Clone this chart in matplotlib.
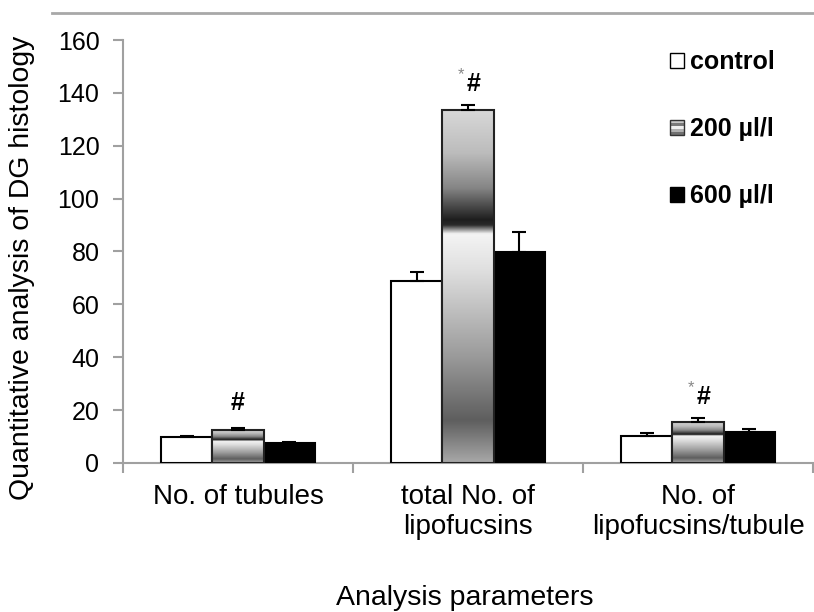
import numpy as np
import matplotlib
matplotlib.use('Agg')
import matplotlib.pyplot as plt
from matplotlib.colors import LinearSegmentedColormap
from matplotlib.patches import Rectangle
from matplotlib.legend_handler import HandlerBase

plt.rcParams['font.family'] = ['Liberation Sans', 'DejaVu Sans']

categories = ['No. of tubules', 'total No. of\nlipofucsins', 'No. of\nlipofucsins/tubule']
series = ['control', '200 µl/l', '600 µl/l']
control = [9.7, 69.0, 10.2]
control_err = [0.4, 3.3, 1.0]
d200 = [12.5, 133.5, 15.6]
d200_err = [0.6, 1.9, 1.3]
d600 = [7.4, 79.8, 11.8]
d600_err = [0.7, 7.7, 0.9]
marks = ['#', '*#', '*#']

# gradient used for the 200 ul/l bars (top -> bottom)
grad = LinearSegmentedColormap.from_list('g200', [
    (0.0, '#d8d8d8'), (0.12, '#bcbcbc'), (0.22, '#858585'), (0.31, '#1e1e1e'),
    (0.325, '#2a2a2a'), (0.35, '#f4f4f4'), (0.45, '#e0e0e0'), (0.70, '#9a9a9a'),
    (0.88, '#5e5e5e'), (1.0, '#a8a8a8')])

class GradHandler(HandlerBase):
    def create_artists(self, legend, orig_handle, xd, yd, w, h, fontsize, trans):
        shades = ['#c8c8c8', '#7a7a7a', '#f0f0f0', '#b0b0b0', '#707070']
        n = len(shades)
        arts = []
        for i, c in enumerate(shades):
            arts.append(Rectangle((-xd, -yd + h * (n - 1 - i) / n), w, h / n,
                                  facecolor=c, edgecolor='none', transform=trans))
        arts.append(Rectangle((-xd, -yd), w, h, facecolor='none',
                              edgecolor='#333333', lw=1, transform=trans))
        return arts

fig = plt.figure(figsize=(8.14, 6.12), dpi=100)
ax = fig.add_axes([123/814, 1-463/612, 690/814, 423/612])

x = np.arange(len(categories))
w = 0.222
ax.bar(x - w, control, w, color='white', edgecolor='black', lw=1.5, zorder=3)
ax.bar(x + w, d600, w, color='black', edgecolor='black', lw=1.5, zorder=3)
b2 = ax.bar(x, d200, w, color='none', edgecolor='#222222', lw=1.5, zorder=4)
img = np.linspace(0, 1, 256).reshape(-1, 1)
for r in b2:
    x0, h = r.get_x(), r.get_height()
    ax.imshow(img, cmap=grad, extent=(x0, x0 + w, 0, h), aspect='auto',
              origin='upper', zorder=3, interpolation='bilinear')

for xs, vals, errs in [(x - w, control, control_err), (x, d200, d200_err), (x + w, d600, d600_err)]:
    ax.errorbar(xs, vals, yerr=[np.zeros(len(errs)), errs], fmt='none',
                ecolor='black', elinewidth=1.5, capsize=5, capthick=1.5, zorder=5)

for i, m in enumerate(marks):
    top = d200[i] + d200_err[i]
    if m.startswith('*'):
        ax.annotate('*', (x[i], top), xytext=(-5, 22), textcoords='offset points',
                    ha='center', va='center', fontsize=12, color='#888888')
        ax.annotate('#', (x[i], top), xytext=(4, 15), textcoords='offset points',
                    ha='center', va='center', fontsize=18, fontweight='bold')
    else:
        ax.annotate('#', (x[i], top), xytext=(0, 18), textcoords='offset points',
                    ha='center', va='center', fontsize=18, fontweight='bold')

ax.set_xlim(-0.5, 2.5)
ax.set_ylim(0, 160)
ax.set_yticks(np.arange(0, 161, 20))
ax.set_xticks([-0.5, 0.5, 1.5, 2.5])
ax.set_xticklabels([])
ax.set_xticks(x, minor=True)
ax.set_xticklabels(categories, minor=True, fontsize=20)
ax.tick_params(axis='x', which='minor', length=0, pad=15)
ax.tick_params(axis='x', which='major', length=7, width=1.5, color='#a0a0a0')
ax.tick_params(axis='y', length=7, width=1.5, color='#a0a0a0', labelsize=18, pad=10)
for s in ['top', 'right']:
    ax.spines[s].set_visible(False)
for s in ['left', 'bottom']:
    ax.spines[s].set_color('#a0a0a0')
    ax.spines[s].set_linewidth(1.5)

fig.text(22/814, 1-268/612, 'Quantitative analysis of DG histology', rotation=90,
         ha='center', va='center', fontsize=20.4)
fig.text(465/814, 1-598/612, 'Analysis parameters', ha='center', va='center', fontsize=20.5)
fig.add_artist(plt.Line2D([52/814, 1], [1-13/612, 1-13/612], color='#a8a8a8', lw=2))

handles = [Rectangle((0, 0), 1, 1, facecolor='white', edgecolor='black'),
           Rectangle((0, 0), 1, 1),
           Rectangle((0, 0), 1, 1, facecolor='black', edgecolor='black')]
leg = fig.legend(handles, series, loc='upper left', bbox_to_anchor=(670/814, 1-50/612),
                 frameon=False, prop={'size': 18, 'weight': 'bold'},
                 handlelength=0.55, handleheight=0.55, handletextpad=0.25,
                 labelspacing=1.72, borderpad=0, borderaxespad=0,
                 handler_map={handles[1]: GradHandler()})

fig.savefig('out.png', dpi=100)
